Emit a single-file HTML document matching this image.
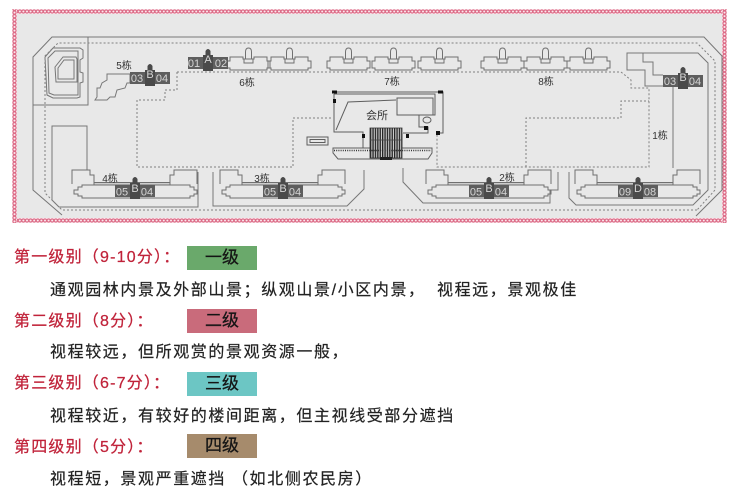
<!DOCTYPE html>
<html>
<head>
<meta charset="utf-8">
<style>
  html,body{margin:0;padding:0;background:#ffffff;}
  body{width:736px;height:492px;position:relative;overflow:hidden;font-family:"Liberation Sans","Noto Sans CJK SC",sans-serif;}
  .h{position:absolute;left:14px;font-size:16px;letter-spacing:1.2px;color:#c0233a;line-height:20px;white-space:nowrap;-webkit-text-stroke:0.25px #c0233a;}
  .b{position:absolute;left:50px;font-size:16px;letter-spacing:1.6px;color:#222;line-height:20px;white-space:nowrap;-webkit-text-stroke:0.2px #222;}
  .box{position:absolute;left:187px;width:70px;height:24px;line-height:24px;text-align:center;font-size:17px;color:#151515;white-space:nowrap;-webkit-text-stroke:0.3px #151515;}
</style>
</head>
<body>
<svg width="736" height="232" viewBox="0 0 736 232" style="position:absolute;left:0;top:0" font-family="Liberation Sans, Noto Sans CJK SC, sans-serif">
  <defs>
    <pattern id="bt" x="0" y="9" width="3.6" height="5" patternUnits="userSpaceOnUse">
      <rect width="3.6" height="5" fill="#fbe9ee"/>
      <circle cx="1.8" cy="2.5" r="1.6" fill="none" stroke="#db6783" stroke-width="1.1"/>
    </pattern>
    <pattern id="bb2" x="0" y="218" width="3.6" height="5" patternUnits="userSpaceOnUse">
      <rect width="3.6" height="5" fill="#fbe9ee"/>
      <circle cx="1.8" cy="2.5" r="1.6" fill="none" stroke="#db6783" stroke-width="1.1"/>
    </pattern>
    <pattern id="bl" x="12" y="0" width="5" height="3.6" patternUnits="userSpaceOnUse">
      <rect width="5" height="3.6" fill="#fbe9ee"/>
      <circle cx="2.5" cy="1.8" r="1.6" fill="none" stroke="#db6783" stroke-width="1.1"/>
    </pattern>
    <pattern id="br" x="722" y="0" width="5" height="3.6" patternUnits="userSpaceOnUse">
      <rect width="5" height="3.6" fill="#fbe9ee"/>
      <circle cx="2.5" cy="1.8" r="1.6" fill="none" stroke="#db6783" stroke-width="1.1"/>
    </pattern>
    <pattern id="st" x="370" y="128" width="2.4" height="30" patternUnits="userSpaceOnUse">
      <rect width="2.4" height="30" fill="#cfcfcf"/>
      <rect width="1.3" height="30" fill="#222"/>
    </pattern>
    <g id="u" fill="none" stroke="#707070" stroke-width="1">
      <path d="M0,13H3V9H16V11H27V9H40V13H43V20H40V22H3V20H0Z"/>
      <path d="M18.5,11V4Q18.5,0 21.5,0Q24.5,0 24.5,4V11"/>
      <path d="M17,11H26V15H17Z"/>
    </g>
    <g id="dk">
      <rect x="-20" y="0" width="40" height="12" fill="#5e5e5e"/>
      <path d="M-2.5,-6Q0,-10 2.5,-6V-2H5V14H-5V-2H-2.5Z" fill="#4a4a4a"/>
    </g>
    <g id="bd" fill="none" stroke="#707070" stroke-width="1">
      <path d="M-63,14V0H-45V5H-41V13"/>
      <path d="M-41,12.5H35V15H-41Z" fill="#cdcdcd"/>
      <path d="M-57,17H-53V15H55V17H59V20H62V24H59V26H55V28H-53V26H-57V24H-61V20H-57Z"/>
      <path d="M35,13V5H39V0H62V14"/>
    </g>
  </defs>

  <!-- frame -->
  <rect x="17" y="14" width="705" height="204" fill="#e8e8e8"/>
  <rect x="12" y="9" width="715" height="5" fill="url(#bt)"/>
  <rect x="12" y="218" width="715" height="5" fill="url(#bb2)"/>
  <rect x="12" y="9" width="5" height="214" fill="url(#bl)"/>
  <rect x="722" y="9" width="5" height="214" fill="url(#br)"/>

  <!-- solid site lines -->
  <g fill="none" stroke="#777" stroke-width="1">
    <polyline points="62,215 33,190 33,57 52,37 704,37 722,56 722,190 696,216"/>
    <polyline points="88,37 88,105 33,105"/>
    <polyline points="87,170 87,126 52,126 52,200 59,207 198,207 198,172"/>
    <polyline points="213,172 213,206 347,206 364,189 364,170"/>
    <polyline points="403,168 403,182 423,203 550,203 550,190 558,190 558,172"/>
    <polyline points="569,172 569,198 576,205 693,205 708,190 708,63 698,53 627,53 627,70 645,70 645,86 663,86"/>
    <path d="M643,53V62H653V75H663"/>
    <path d="M673,87V168"/>
    <!-- stadium -->
    <polygon points="45,57 53,48 80,48 83,50 83,58 80,60 80,72 83,73 83,82 80,83 80,97 77,98 53,98 47,95"/>
    <polygon points="48,58 55,51 78,51 78,95 54,95 49,93"/>
    <polygon points="55,67 63,57 76,57 77,59 77,82 56,82"/>
    <polygon points="58,68 64,60 74,60 74,79 58,79"/>
    <!-- 5栋 -->
    <polygon points="107,74 130,74 130,83 127,83 125,88 117,90 115,97 110,97 107,100 95,100 97,97 97,88 100,88 102,83 107,80"/>
  </g>

  <!-- dashed lines -->
  <g fill="none" stroke="#808080" stroke-width="1" stroke-dasharray="2 2">
    <polyline points="697,210 62,210 45,193 45,56 58,43 697,43 715,61 715,190 697,210"/>
    <polyline points="177,72 621,72 631,80 631,88 649,88 649,167 437,167 437,135"/>
    <polyline points="177,72 177,90 165,90 165,100 137,100 137,167 293,167 293,118 332,118"/>
    <polyline points="526,167 526,118 621,118 621,101 649,101"/>
  </g>

  <!-- top row units -->
  <use href="#u" x="227" y="48"/>
  <use href="#u" x="268" y="48"/>
  <use href="#u" x="327" y="48"/>
  <use href="#u" x="372" y="48"/>
  <use href="#u" x="418" y="48"/>
  <use href="#u" x="481" y="48"/>
  <use href="#u" x="524" y="48"/>
  <use href="#u" x="567" y="48"/>

  <!-- bottom buildings -->
  <use href="#bd" x="135" y="170"/>
  <use href="#bd" x="283" y="170"/>
  <use href="#bd" x="489" y="170"/>
  <use href="#bd" x="638" y="170"/>

  <!-- 会所 -->
  <g fill="none" stroke="#5e5e5e" stroke-width="1">
    <polyline points="332,92 443,92 443,133 437,133"/>
    <path d="M334,94H435V115H419V127H428V133H403"/>
    <path d="M334,94V132H363V148"/>
    <path d="M336,130L348,102L396,100"/>
    <rect x="397" y="98" width="36" height="17"/>
    <ellipse cx="427" cy="120" rx="4" ry="3"/>
    <rect x="307" y="137" width="21" height="8"/>
    <rect x="310" y="139.5" width="15" height="3"/>
    <polygon points="333,148 432,148 432,153 428,159 338,159 333,153"/>
    <path d="M402,133V148"/>
  </g>
  <rect x="370" y="128" width="32" height="30" fill="url(#st)" stroke="#333" stroke-width="0.8"/>
  <line x1="370" y1="140" x2="402" y2="140" stroke="#444" stroke-width="0.8"/>
  <line x1="334" y1="150.5" x2="431" y2="150.5" stroke="#333" stroke-width="1.5" stroke-dasharray="1 1.2"/>
  <rect x="380" y="157" width="12" height="3" fill="#222"/>
  <g fill="#111">
    <rect x="332" y="90.5" width="5" height="3"/>
    <rect x="438" y="90.5" width="5" height="3"/>
    <rect x="333" y="99" width="3" height="4"/>
    <rect x="436" y="131" width="4" height="4"/>
    <rect x="424" y="126" width="4" height="4"/>
    <rect x="362" y="134" width="3" height="4"/>
    <rect x="406" y="134" width="3" height="4"/>
  </g>

  <!-- dark blocks -->
  <use href="#dk" x="208" y="57"/>
  <use href="#dk" x="150" y="72"/>
  <use href="#dk" x="683" y="75"/>
  <use href="#dk" x="135" y="185"/>
  <use href="#dk" x="283" y="185"/>
  <use href="#dk" x="489" y="185"/>
  <use href="#dk" x="638" y="185"/>

  <g font-size="11" fill="#d6d6d6" text-anchor="middle">
    <text x="194" y="67">01</text><text x="208" y="63">A</text><text x="221" y="67">02</text>
    <text x="137" y="82">03</text><text x="150" y="78">B</text><text x="162" y="82">04</text>
    <text x="670" y="85">03</text><text x="683" y="81">B</text><text x="695" y="85">04</text>
    <text x="122" y="195.5">05</text><text x="135" y="192">B</text><text x="147" y="195.5">04</text>
    <text x="270" y="195.5">05</text><text x="283" y="192">B</text><text x="295" y="195.5">04</text>
    <text x="476" y="195.5">05</text><text x="489" y="192">B</text><text x="501" y="195.5">04</text>
    <text x="625" y="195.5">09</text><text x="638" y="192">D</text><text x="650" y="195.5">08</text>
  </g>

  <!-- labels -->
  <g font-size="10" fill="#333" text-anchor="middle">
    <text x="124" y="69">5栋</text>
    <text x="247" y="86">6栋</text>
    <text x="392" y="85">7栋</text>
    <text x="546" y="85">8栋</text>
    <text x="660" y="139">1栋</text>
    <text x="110" y="182">4栋</text>
    <text x="262" y="182">3栋</text>
    <text x="507" y="181">2栋</text>
    <text x="377" y="119" font-size="11">会所</text>
  </g>
</svg>

<!-- Legend -->
<div class="h" style="top:248px">第一级别（9-10分）：</div>
<div class="box" style="top:246px;background:#6aa96b">一级</div>
<div class="b" style="top:281px">通观园林内景及外部山景；纵观山景/小区内景，</div>
<div class="b" style="top:281px;left:437px">视程远，景观极佳</div>

<div class="h" style="top:312px">第二级别（8分）：</div>
<div class="box" style="top:309px;background:#c96b7b">二级</div>
<div class="b" style="top:343px">视程较远，但所观赏的景观资源一般，</div>

<div class="h" style="top:374px">第三级别（6-7分）：</div>
<div class="box" style="top:372px;background:#6cc6c4">三级</div>
<div class="b" style="top:407px">视程较近，有较好的楼间距离，但主视线受部分遮挡</div>

<div class="h" style="top:438px">第四级别（5分）：</div>
<div class="box" style="top:434px;background:#a68b6c">四级</div>
<div class="b" style="top:470px">视程短，景观严重遮挡 （如北侧农民房）</div>
</body>
</html>
